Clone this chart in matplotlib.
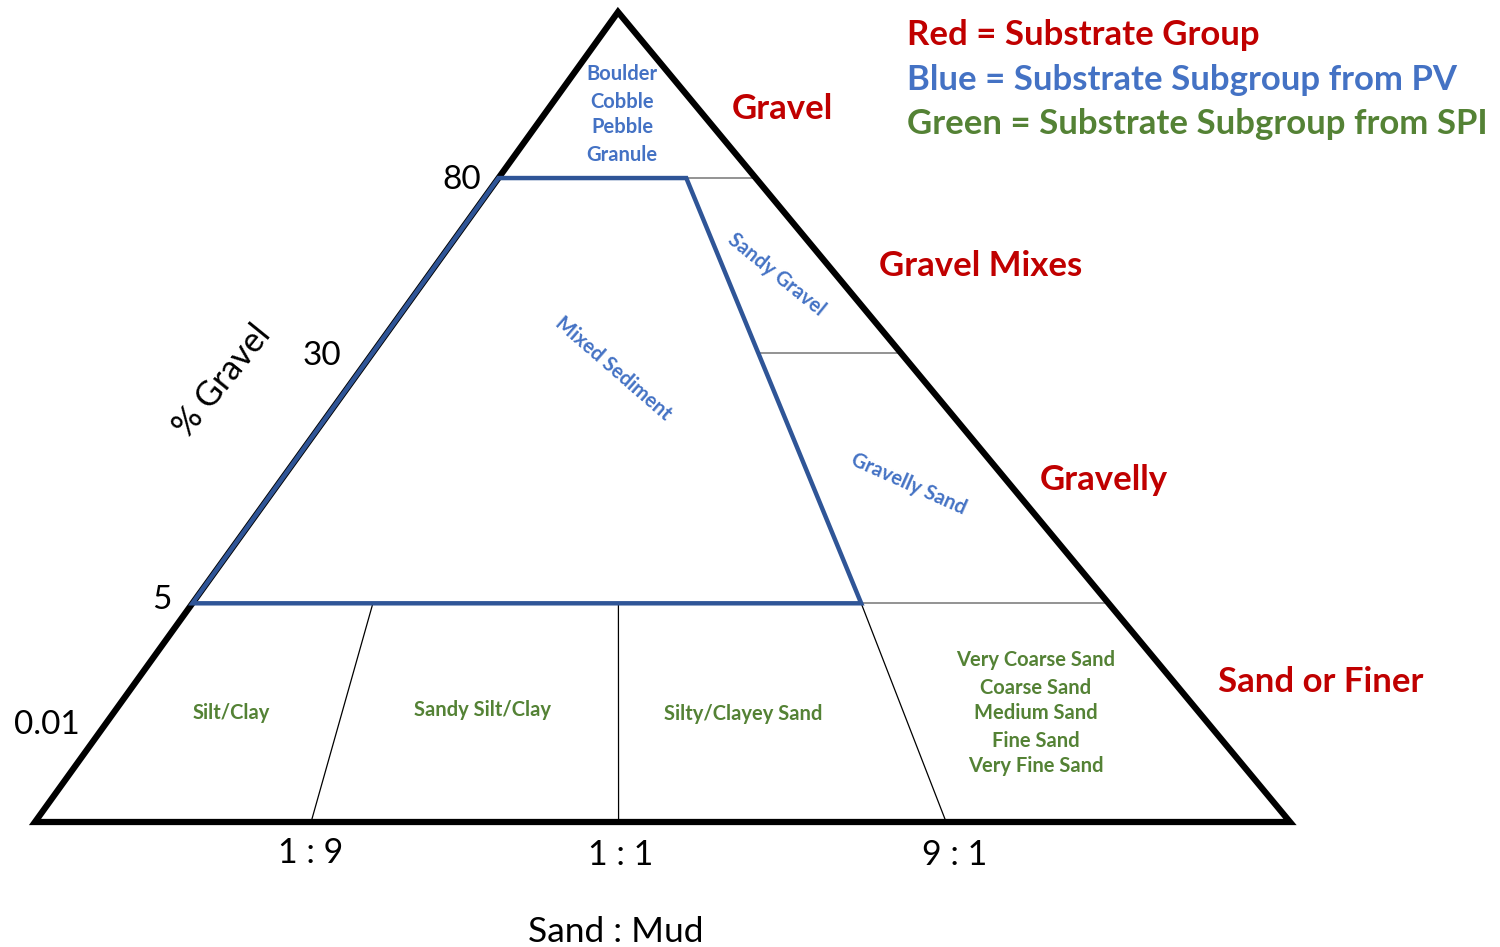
import matplotlib.pyplot as plt

plt.rcParams['font.family'] = ['Lato', 'DejaVu Sans']

# triangle corners (pixel layout of the original slide)
LEFT = (35, 822)
RIGHT = (1290, 822)
APEX = (618, 12)

# % gravel boundaries and how far up the triangle each one sits (0 = base, 1 = apex)
gravel_ticks = ['80', '30', '5', '0.01']
gravel_heights = [0.795, 0.579, 0.27, 0.122]

# sand : mud boundaries, as fraction across the row at the 5% line and at the base
ratio_ticks = ['1 : 9', '1 : 1', '9 : 1']
ratio_frac_top = [0.197, 0.465, 0.73]
ratio_frac_base = [0.22, 0.465, 0.726]

# substrate groups (red), subgroups from PV (blue) and from SPI (green)
groups = ['Gravel', 'Gravel Mixes', 'Gravelly', 'Sand or Finer']
gravel_subgroups = ['Boulder', 'Cobble', 'Pebble', 'Granule']
pv_subgroups = ['Sandy Gravel', 'Mixed Sediment', 'Gravelly Sand']
spi_mud = ['Silt/Clay', 'Sandy Silt/Clay', 'Silty/Clayey Sand']
spi_sand = ['Very Coarse Sand', 'Coarse Sand', 'Medium Sand', 'Fine Sand', 'Very Fine Sand']
legend = ['Red = Substrate Group', 'Blue = Substrate Subgroup from PV',
          'Green = Substrate Subgroup from SPI']

RED = '#C00000'
BLUE = '#4472C4'
GREEN = '#548235'
LINE_BLUE = '#2F5597'


def pt(v, f):
    # point at height v, fraction f across the triangle row
    lx = LEFT[0] + (APEX[0] - LEFT[0]) * v
    rx = RIGHT[0] + (APEX[0] - RIGHT[0]) * v
    y = LEFT[1] + (APEX[1] - LEFT[1]) * v
    return lx + f * (rx - lx), y


def seg(ax, p, q, **kw):
    ax.plot([p[0], q[0]], [p[1], q[1]], **kw)


fig = plt.figure(figsize=(15, 9.47), dpi=100)
ax = fig.add_axes([0, 0, 1, 1])
ax.set_xlim(0, 1500)
ax.set_ylim(947, 0)
ax.axis('off')

v80, v30, v5 = gravel_heights[0], gravel_heights[1], gravel_heights[2]
f9 = ratio_frac_top[2]

# thin grey boundaries on the gravelly side
gray = dict(color='#808080', lw=1.2)
seg(ax, pt(v80, f9), pt(v80, 1), **gray)
seg(ax, pt(v30, f9), pt(v30, 1), **gray)
seg(ax, pt(v5, f9), pt(v5, 1), **gray)

# thin black sand:mud lines below 5%
for ft, fb in zip(ratio_frac_top, ratio_frac_base):
    seg(ax, pt(v5, ft), pt(0, fb), color='black', lw=0.9)

# outer triangle
tri = plt.Polygon([LEFT, RIGHT, APEX], closed=True, fill=False, edgecolor='black',
                  lw=4.5, joinstyle='miter', zorder=3)
ax.add_patch(tri)

# mixed sediment outline (blue)
poly = [pt(v5, 0), pt(v80, 0), pt(v80, f9), pt(v5, f9)]
ax.add_patch(plt.Polygon(poly, closed=True, fill=False, edgecolor=LINE_BLUE, lw=3.2,
                         joinstyle='miter', zorder=4))

# % gravel tick labels
gravel_label_pos = [(462, 180), (322, 356), (162, 600), (47, 725)]
for t, (x, y) in zip(gravel_ticks, gravel_label_pos):
    ax.text(x, y, t, fontsize=24, ha='center', va='center')
ax.text(222, 381, '% Gravel', fontsize=24.5, ha='center', va='center', rotation=51)

# sand : mud labels
ratio_label_pos = [(311, 853), (621, 855), (955, 855)]
for t, (x, y) in zip(ratio_ticks, ratio_label_pos):
    ax.text(x, y, t, fontsize=24.5, ha='center', va='center')
ax.text(616, 932, 'Sand : Mud', fontsize=25.5, ha='center', va='center')

# substrate groups
group_pos = [(782, 109), (981, 266), (1104, 480), (1321, 682)]
for t, (x, y) in zip(groups, group_pos):
    ax.text(x, y, t, fontsize=25, fontweight='bold', color=RED, ha='center', va='center')

# blue subgroups
for t, y in zip(gravel_subgroups, [74, 102, 127, 155]):
    ax.text(622, y, t, fontsize=14.5, fontweight='bold', color=BLUE, ha='center', va='center')
pv_pos = [(776, 275, -39), (613, 369, -41), (909, 484, -24)]
for t, (x, y, r) in zip(pv_subgroups, pv_pos):
    ax.text(x, y, t, fontsize=14.5, fontweight='bold', color=BLUE, ha='center', va='center',
            rotation=r, rotation_mode='anchor')

# green subgroups
for t, (x, y) in zip(spi_mud, [(231, 713), (483, 710), (743, 714)]):
    ax.text(x, y, t, fontsize=14.5, fontweight='bold', color=GREEN, ha='center', va='center')
for t, y in zip(spi_sand, [660, 688, 713, 741, 766]):
    ax.text(1036, y, t, fontsize=14.5, fontweight='bold', color=GREEN, ha='center', va='center')

# colour key
for t, c, y in zip(legend, [RED, BLUE, GREEN], [35, 80, 124]):
    ax.text(907, y, t, fontsize=25, fontweight='bold', color=c, ha='left', va='center')

fig.savefig('out.png', dpi=100)
